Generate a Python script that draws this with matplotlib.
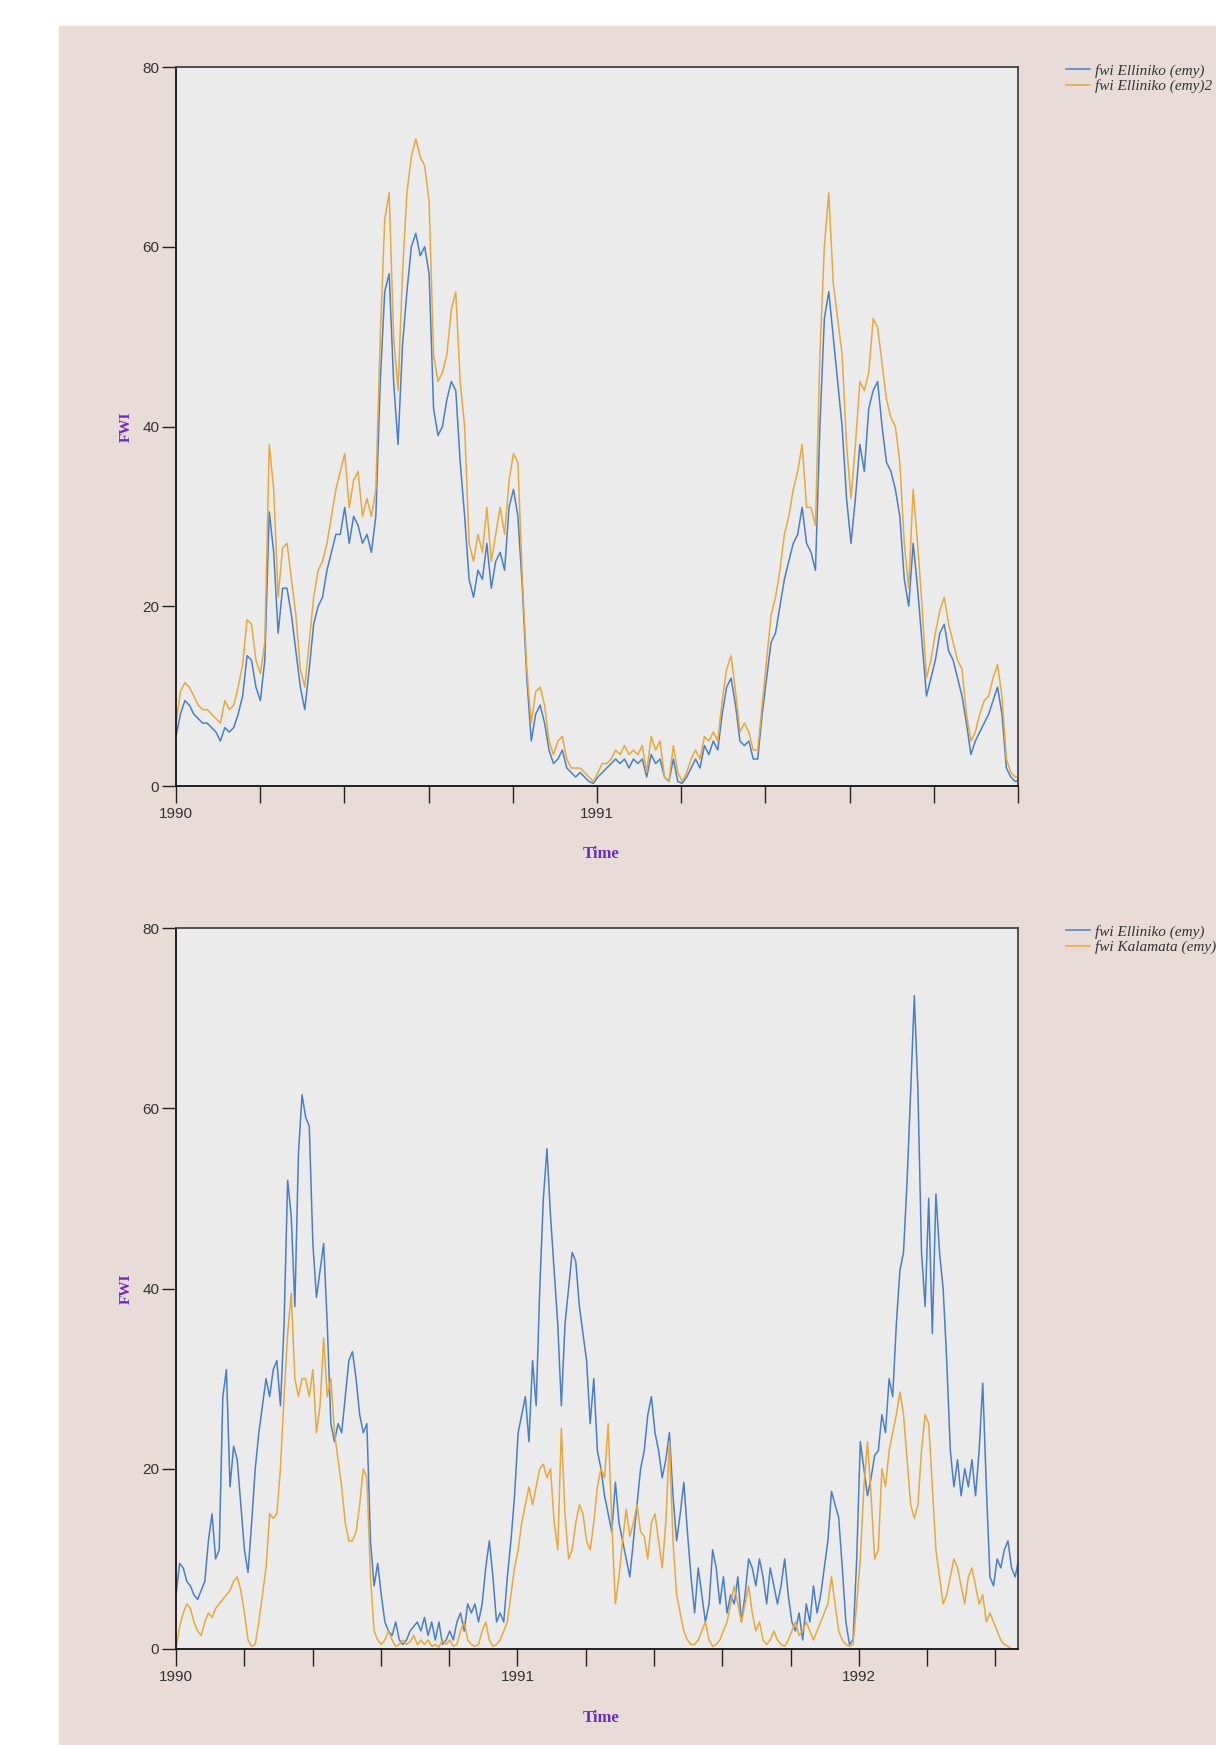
import numpy as np
import matplotlib
matplotlib.use("Agg")
import matplotlib.pyplot as plt
from matplotlib.patches import Rectangle
from matplotlib.ticker import MultipleLocator, FixedLocator

# FWI series, sampled about every 3.85 days from 1990-01-01
step_days = 3.85

top_elliniko = [
    5.5, 8, 9.5, 9, 8, 7.5, 7, 7, 6.5, 6, 5, 6.5, 6, 6.5, 8, 10, 14.5, 14, 11, 9.5,
    14, 30.5, 26, 17, 22, 22, 19, 15, 11, 8.5, 13, 18, 20, 21, 24, 26, 28, 28, 31, 27,
    30, 29, 27, 28, 26, 30, 45, 55, 57, 45, 38, 49, 55, 60, 61.5, 59, 60, 57, 42, 39,
    40, 43, 45, 44, 36, 30, 23, 21, 24, 23, 27, 22, 25, 26, 24, 31, 33, 30, 22, 12,
    5, 8, 9, 7, 4, 2.5, 3, 4, 2, 1.5, 1, 1.5, 1, 0.5, 0.3, 1, 1.5, 2, 2.5, 3,
    2.5, 3, 2, 3, 2.5, 3, 1, 3.5, 2.5, 3, 1, 0.5, 3, 0.5, 0.3, 1, 2, 3, 2, 4.5,
    3.5, 5, 4, 8, 11, 12, 9, 5, 4.5, 5, 3, 3, 8, 12, 16, 17, 20, 23, 25, 27,
    28, 31, 27, 26, 24, 40, 52, 55, 50, 45, 40, 32, 27, 32, 38, 35, 42, 44, 45, 40,
    36, 35, 33, 30, 23, 20, 27, 22, 16, 10, 12, 14, 17, 18, 15, 14, 12, 10, 7, 3.5,
    5, 6, 7, 8, 9.5, 11, 8, 2, 1, 0.5, 0.7,
]
top_elliniko2 = [
    7, 10.5, 11.5, 11, 10, 9, 8.5, 8.5, 8, 7.5, 7, 9.5, 8.5, 9, 11, 13.5, 18.5, 18, 14, 12.5,
    16, 38, 33, 21, 26.5, 27, 23, 19, 13, 11, 16, 21, 24, 25, 27, 30, 33, 35, 37, 31,
    34, 35, 30, 32, 30, 33, 50, 63, 66, 50, 44, 57, 66, 70, 72, 70, 69, 65, 48, 45,
    46, 48, 53, 55, 45, 40, 27, 25, 28, 26, 31, 25, 28, 31, 28, 34, 37, 36, 23, 13,
    7, 10.5, 11, 9, 5, 3.5, 5, 5.5, 3, 2, 2, 2, 1.5, 1, 0.5, 1.5, 2.5, 2.5, 3, 4,
    3.5, 4.5, 3.5, 4, 3.5, 4.5, 1.5, 5.5, 4, 5, 1, 0.5, 4.5, 1.5, 0.5, 1.5, 3, 4, 3, 5.5,
    5, 6, 5, 9.5, 13, 14.5, 10.5, 6, 7, 6, 4, 4, 9, 14, 19, 21, 24, 28, 30, 33,
    35, 38, 31, 31, 29, 48, 60, 66, 56, 52, 48, 38, 32, 38, 45, 44, 46, 52, 51, 47,
    43, 41, 40, 36, 27, 22, 33, 27, 20, 12, 14, 17, 19.5, 21, 18, 16, 14, 13, 8, 5,
    6, 8, 9.5, 10, 12, 13.5, 10, 3, 1.5, 1, 1,
]

bottom_elliniko = [
    6, 9.5, 9, 7.5, 7, 6, 5.5, 6.5, 7.5, 12, 15, 10, 11, 28, 31, 18, 22.5, 21, 16, 11,
    8.5, 14, 20, 24, 27, 30, 28, 31, 32, 27, 36, 52, 48, 38, 55, 61.5, 59, 58, 45, 39,
    42, 45, 36, 25, 23, 25, 24, 28, 32, 33, 30, 26, 24, 25, 12, 7, 9.5,
    6, 3, 2, 1.5, 3, 1, 0.5, 1, 2, 2.5, 3, 2, 3.5, 1.5, 3, 1, 3, 0.5, 1, 2,
    1, 3, 4, 2, 5, 4, 5, 3, 5, 9, 12, 8, 3, 4, 3,
    8, 12, 17, 24, 26, 28, 23, 32, 27, 40, 50, 55.5, 48, 42, 36, 27, 36, 40, 44, 43,
    38, 35, 32, 25, 30, 22, 20, 17, 15, 13, 18.5, 14, 12, 10, 8, 12, 16, 20, 22, 26,
    28, 24, 22, 19, 21, 24, 17, 12, 15, 18.5, 13, 8,
    4, 9, 6, 3, 5, 11, 9, 5, 8, 4, 6, 5, 8, 3, 6, 10, 9, 7, 10, 8,
    5, 9, 7, 5, 7, 10, 6, 3, 2, 4, 1, 5, 3, 7, 4, 6, 9,
    12, 17.5, 16, 14.6, 9, 3, 0.5, 1, 10, 23, 20, 17, 19, 21.5,
    22, 26, 24, 30, 28, 36, 42, 44, 52, 62, 72.5,
    62, 44, 38, 50, 35, 50.5, 44, 40, 32, 22, 18, 21, 17, 20, 18, 21, 17, 22, 29.5, 18,
    8, 7, 10, 9, 11, 12, 9, 8, 10, 8,
]
bottom_kalamata = [
    0, 2.5, 4, 5, 4.5, 3, 2, 1.5, 3, 4, 3.5, 4.5, 5, 5.5, 6, 6.5, 7.5, 8, 6.5, 4,
    1, 0.3, 0.5, 3, 6, 9, 15, 14.5, 15, 20, 28, 35, 39.5, 30, 28, 30, 30, 28, 31, 24,
    27, 34.5, 28, 30, 24, 21, 18, 14, 12, 12, 13, 16, 20, 19, 8, 2,
    1, 0.5, 1, 2, 1, 0.3, 0.5, 1, 0.5, 0.8, 1.5, 0.5, 1, 0.5, 1, 0.3, 0.5, 0.2, 1, 0.5,
    1, 0.3, 0.5, 2, 3, 1, 0.5, 0.3, 0.5, 2, 3, 1, 0.3, 0.5, 1, 2,
    3, 6, 9, 11, 14, 16, 18, 16, 18, 20, 20.5, 19, 20, 14, 11, 24.5, 15, 10, 11, 14,
    16, 15, 12, 11, 14, 18, 20, 19, 25, 14, 5, 8, 12, 15.5, 12.5, 14, 16, 13, 12.5, 10,
    14, 15, 12, 9, 14, 23, 12, 6, 4, 2, 1, 0.5,
    0.5, 1, 2, 3, 1, 0.3, 0.5, 1, 2, 3, 5, 7, 5, 3, 5, 7, 4, 2, 3, 1,
    0.5, 1, 2, 1, 0.5, 0.3, 1, 2, 3, 1.5, 2, 3, 2, 1, 2, 3, 4,
    5, 8, 5, 2, 1, 0.5, 0.3, 0.5, 5, 10, 18, 23, 17, 10, 11, 20, 18, 22, 24, 26,
    28.5, 26, 21, 16, 14.5,
    16, 22, 26, 25, 18, 11, 8, 5, 6, 8, 10, 9, 7, 5, 8, 9, 7, 5, 6, 3,
    4, 3, 2, 1, 0.5, 0.3, 0, 0, 0, 0,
]

y_ticks = [0, 20, 40, 60, 80]

blue = "#4a7fc8"
orange = "#e8a83c"
pink = "#e9dcd8"
purple = "#6a2bc2"
tick_font = ["Liberation Sans Narrow", "Liberation Sans", "DejaVu Sans"]
serif = ["Liberation Serif", "DejaVu Serif"]

W, H = 1216, 1745


def to_years(values):
    return 1990 + np.arange(len(values)) * step_days / 365.0


def style_axes(ax, x_end, year_ticks):
    ax.set_facecolor("#ebebeb")
    ax.set_xlim(1990, x_end)
    ax.set_ylim(0, 80)
    ax.set_yticks(y_ticks)
    ax.xaxis.set_major_locator(FixedLocator(year_ticks))
    ax.xaxis.set_minor_locator(MultipleLocator(0.2))
    ax.set_xticklabels([str(y) for y in year_ticks])
    ax.tick_params(axis="both", which="both", direction="out", length=10,
                   width=1.0, color="#222222", labelsize=11, labelcolor="#333333")
    ax.tick_params(axis="x", which="both", length=12)
    ax.tick_params(axis="y", pad=2)
    ax.tick_params(axis="x", pad=3)
    for lab in ax.get_xticklabels() + ax.get_yticklabels():
        lab.set_family(tick_font)
    for side in ["left", "bottom"]:
        ax.spines[side].set_color("#111111")
        ax.spines[side].set_linewidth(1.3)
    for side in ["top", "right"]:
        ax.spines[side].set_color("#444444")
        ax.spines[side].set_linewidth(1.3)
    ax.set_xlabel("Time", family=serif, fontweight="bold", fontsize=12, color=purple)
    ax.set_ylabel("FWI", family=serif, fontweight="bold", fontsize=11, color=purple)
    ax.xaxis.set_label_coords(0.505, -0.084)
    ax.yaxis.set_label_coords((133 - 176) / 842, 0.5)


def add_legend(ax, fig, y_top):
    leg = ax.legend(loc="upper left", bbox_to_anchor=(1058 / W, y_top),
                    bbox_transform=fig.transFigure, frameon=False, borderpad=0,
                    handlelength=1.6, handletextpad=0.3, labelspacing=0.1,
                    prop={"family": serif, "style": "italic", "size": 11})
    for text in leg.get_texts():
        text.set_color("#333333")


fig = plt.figure(figsize=(W / 100, H / 100), dpi=100)
fig.patches.append(Rectangle((59 / W, 0), 1, 1 - 26 / H,
                             transform=fig.transFigure, color=pink, zorder=-10))

# top panel: Elliniko vs Elliniko2
ax1 = fig.add_axes([176 / W, 1 - 786 / H, 842 / W, 719 / H])
ax1.plot(to_years(top_elliniko), top_elliniko, color=blue, lw=1.1,
         label="fwi Elliniko (emy)")
ax1.plot(to_years(top_elliniko2), top_elliniko2, color=orange, lw=1.1,
         label="fwi Elliniko (emy)2")
style_axes(ax1, 1992, [1990, 1991])
add_legend(ax1, fig, 1 - 56 / H)

# bottom panel: Elliniko vs Kalamata, longer time span in the same width
ax2 = fig.add_axes([176 / W, 1 - 1649 / H, 842 / W, 721 / H])
ax2.plot(to_years(bottom_elliniko), bottom_elliniko, color=blue, lw=1.1,
         label="fwi Elliniko (emy)")
ax2.plot(to_years(bottom_kalamata), bottom_kalamata, color=orange, lw=1.1,
         label="fwi Kalamata (emy)")
style_axes(ax2, 1992.466, [1990, 1991, 1992])
add_legend(ax2, fig, 1 - 917 / H)

fig.savefig("out.png", dpi=100, facecolor="white")
